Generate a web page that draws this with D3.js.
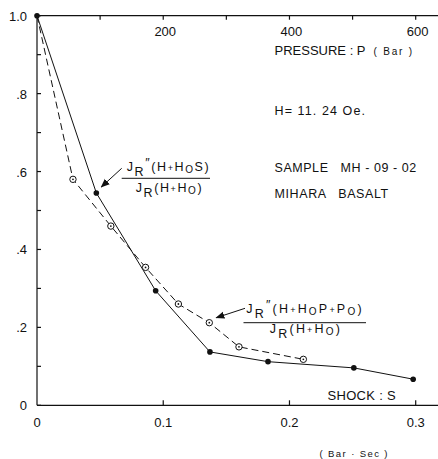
<!DOCTYPE html>
<html>
<head>
<meta charset="utf-8">
<script src="https://cdn.jsdelivr.net/npm/d3@7"></script>
<style>
  html, body { margin: 0; padding: 0; background: #fff; }
  svg { display: block; font-family: "Liberation Sans", Arial, sans-serif; }
</style>
</head>
<body>
<div id="vis"></div>
<script>
// chart data
const shock = [0, 0.047, 0.094, 0.137, 0.183, 0.251, 0.298];
const shockRatio = [1.0, 0.545, 0.294, 0.137, 0.112, 0.096, 0.067];
const pressure = [0, 57, 117, 172, 224, 273, 320, 422];
const pressureRatio = [1.0, 0.58, 0.46, 0.354, 0.26, 0.212, 0.150, 0.118];

const shockTicks = [0, 0.1, 0.2, 0.3];
const shockTickLabels = ['0', '0.1', '0.2', '0.3'];
const pressureTicks = [100, 200, 300, 400, 500, 600];
const pressureTickLabels = ['', '200', '', '400', '', '600'];
const yTicks = [0, 0.2, 0.4, 0.6, 0.8, 1.0];
const yTickLabels = ['0', '.2', '.4', '.6', '.8', '1.0'];
const yMinor = [0.1, 0.3, 0.5, 0.7, 0.9];

const width = 438, height = 459;

const svg = d3.select('#vis').append('svg')
  .attr('width', width).attr('height', height);

// scales: 0.3 Bar.Sec and 600 Bar share the same pixel
const x = d3.scaleLinear().domain([0, 0.3]).range([37, 415.7]);
const p = d3.scaleLinear().domain([0, 600]).range([37, 415.7]);
const y = d3.scaleLinear().domain([0, 1]).range([405.3, 15.7]);
const xEnd = x.invert(width);

const ink = '#111';

// frame: left, top, bottom
const frame = svg.append('g').attr('stroke', ink).attr('stroke-width', 1.2).attr('fill', 'none');
frame.append('line').attr('x1', x(0)).attr('x2', x(0)).attr('y1', y(1)).attr('y2', y(0));
frame.append('line').attr('x1', x(0)).attr('x2', x(xEnd)).attr('y1', y(1)).attr('y2', y(1));
frame.append('line').attr('x1', x(0)).attr('x2', x(xEnd)).attr('y1', y(0)).attr('y2', y(0));

// left axis ticks (inward)
frame.selectAll('.ytick').data(yTicks.concat(yMinor)).enter().append('line')
  .attr('x1', x(0)).attr('x2', x(0) + 4)
  .attr('y1', d => y(d)).attr('y2', d => y(d));

svg.append('g').selectAll('text').data(yTicks).enter().append('text')
  .attr('x', 27).attr('y', d => y(d) + 5)
  .attr('text-anchor', 'end')
  .attr('font-size', 13).attr('fill', ink)
  .text((d, i) => yTickLabels[i]);

// bottom axis (shock)
frame.selectAll('.xtick').data(shockTicks.slice(1)).enter().append('line')
  .attr('x1', d => x(d)).attr('x2', d => x(d))
  .attr('y1', y(0)).attr('y2', y(0) - 5);

svg.append('g').selectAll('text').data(shockTicks).enter().append('text')
  .attr('x', d => x(d)).attr('y', 427)
  .attr('text-anchor', 'middle')
  .attr('font-size', 13).attr('fill', ink)
  .text((d, i) => shockTickLabels[i]);

// top axis (pressure)
frame.selectAll('.ptick').data(pressureTicks).enter().append('line')
  .attr('x1', d => p(d)).attr('x2', d => p(d))
  .attr('y1', y(1)).attr('y2', y(1) + 4);

svg.append('g').selectAll('text').data(pressureTicks).enter().append('text')
  .attr('x', d => p(d) + 2).attr('y', 36)
  .attr('text-anchor', 'middle')
  .attr('font-size', 13).attr('fill', ink)
  .text((d, i) => pressureTickLabels[i]);

// series lines
const shockPts = shock.map((d, i) => [x(d), y(shockRatio[i])]);
const pressPts = pressure.map((d, i) => [p(d), y(pressureRatio[i])]);
const line = d3.line();

svg.append('path').attr('d', line(shockPts))
  .attr('fill', 'none').attr('stroke', ink).attr('stroke-width', 1);
svg.append('path').attr('d', line(pressPts))
  .attr('fill', 'none').attr('stroke', ink).attr('stroke-width', 1)
  .attr('stroke-dasharray', '7,4');

// markers
svg.append('g').selectAll('circle').data(shockPts).enter().append('circle')
  .attr('cx', d => d[0]).attr('cy', d => d[1]).attr('r', 2.8).attr('fill', ink);

const open = svg.append('g').selectAll('g').data(pressPts.slice(1)).enter().append('g');
open.append('circle').attr('cx', d => d[0]).attr('cy', d => d[1]).attr('r', 3.2)
  .attr('fill', '#fff').attr('stroke', ink).attr('stroke-width', 1);
open.append('circle').attr('cx', d => d[0]).attr('cy', d => d[1]).attr('r', 0.9).attr('fill', ink);

// text annotations
function label(txt, xx, yy, size, ls) {
  return svg.append('text').attr('x', xx).attr('y', yy)
    .attr('font-size', size).attr('fill', ink)
    .attr('letter-spacing', ls || 0)
    .attr('xml:space', 'preserve').style('white-space', 'pre')
    .text(txt);
}
const t1 = label('PRESSURE : P', 274.5, 55, 13, 0);
t1.append('tspan').attr('font-size', 10).attr('dx', 8).attr('letter-spacing', 1.8).text('( Bar )');
label('H= 11. 24 Oe.', 274.5, 115, 12.5, 1.1);
label('SAMPLE   MH - 09 - 02', 274.5, 171.5, 12.5, 0.55);
label('MIHARA   BASALT', 274.5, 198, 12.5, 0.6);
label('SHOCK : S', 327.5, 400, 13, 0.3);
label('( Bar · Sec )', 319.5, 456.5, 9.5, 1.4);

// fraction labels: segments are [text, kind]
function rich(parts, cx, cy, ls) {
  const t = svg.append('text').attr('x', cx).attr('y', cy)
    .attr('text-anchor', 'middle').attr('font-size', 12.5).attr('fill', ink)
    .attr('letter-spacing', ls);
  let shift = 0;
  parts.forEach(([s, k]) => {
    let target = 0, fs = 12.5;
    if (k === 'sub') { target = 5; }
    if (k === 'sup') { target = -4; }
    if (k === 'small') { target = 0; fs = 9; }
    if (k === 'o') { target = 2; fs = 10; }
    t.append('tspan').attr('dy', target - shift).attr('font-size', fs).text(s);
    shift = target;
  });
  return t;
}
function fraction(num, den, cx, cyNum, lineY, cyDen, x1, x2, ls) {
  rich(num, cx, cyNum, ls);
  rich(den, cx + 1, cyDen, ls);
  svg.append('line').attr('x1', x1).attr('x2', x2).attr('y1', lineY).attr('y2', lineY)
    .attr('stroke', ink).attr('stroke-width', 1);
}
const den = [['J', null], ['R', 'sub'], ['(H', null], ['+', 'small'], ['H', null], ['O', 'o'], [')', null]];
fraction([['J', null], ['R', 'sub'], ['″', 'sup'], ['(H', null], ['+', 'small'], ['H', null], ['O', 'o'], ['S)', null]],
  den, 168.5, 171, 178.3, 192, 121.7, 210, 1.6);
fraction([['J', null], ['R', 'sub'], ['″', 'sup'], ['(H', null], ['+', 'small'], ['H', null], ['O', 'o'], ['P', null], ['+', 'small'], ['P', null], ['O', 'o'], [')', null]],
  den, 305, 313, 322.7, 333, 243.5, 366, 2.2);

// arrows
svg.append('defs').append('marker').attr('id', 'ah')
  .attr('viewBox', '0 0 10 10').attr('refX', 9).attr('refY', 5)
  .attr('markerWidth', 9).attr('markerHeight', 9).attr('orient', 'auto')
  .attr('markerUnits', 'userSpaceOnUse')
  .append('path').attr('d', 'M0,1 L10,5 L0,9 Z').attr('fill', ink);

const a1 = shockPts[1], a2 = pressPts[5];
svg.append('line').attr('x1', 121.7).attr('y1', 168.3).attr('x2', a1[0] + 5).attr('y2', a1[1] - 6)
  .attr('stroke', ink).attr('stroke-width', 1).attr('marker-end', 'url(#ah)');
svg.append('line').attr('x1', 245).attr('y1', 308.3).attr('x2', a2[0] + 7).attr('y2', a2[1] - 5)
  .attr('stroke', ink).attr('stroke-width', 1).attr('marker-end', 'url(#ah)');
</script>
</body>
</html>
